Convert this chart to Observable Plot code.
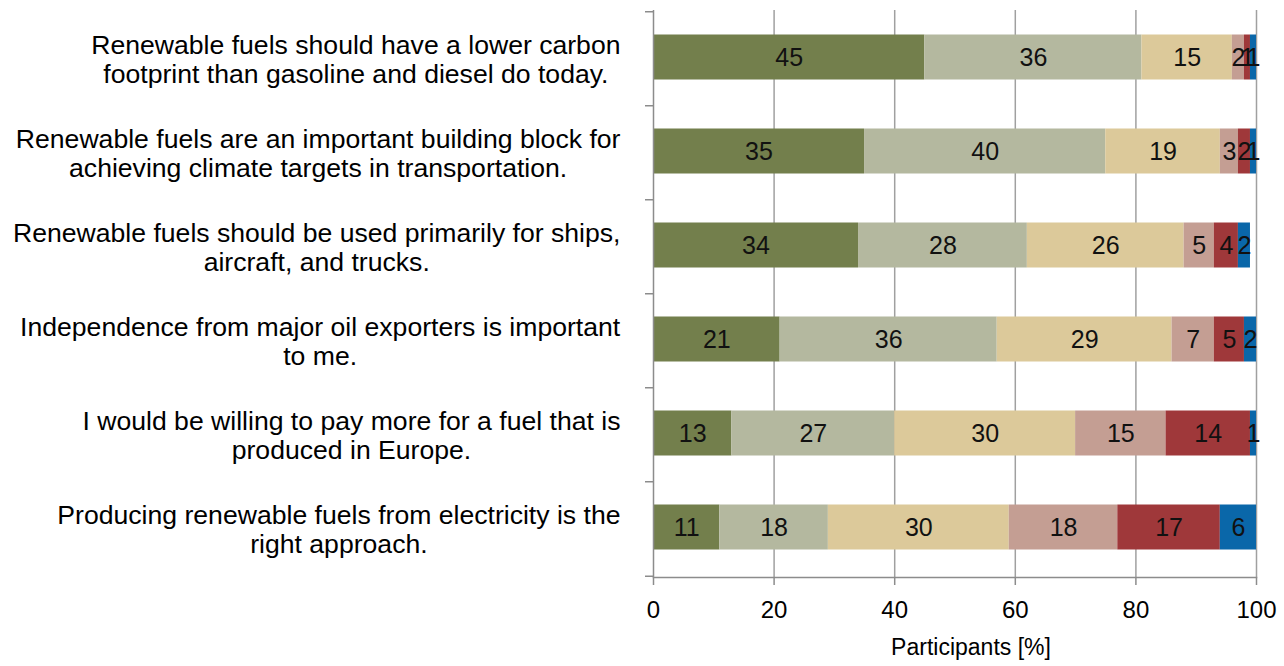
<!DOCTYPE html>
<html>
<head>
<meta charset="utf-8">
<script src="https://cdn.jsdelivr.net/npm/d3@7"></script>
<script src="https://cdn.jsdelivr.net/npm/@observablehq/plot@0.6"></script>
<style>
  html, body { margin: 0; padding: 0; background: #fff; }
  svg { display: block; }
</style>
</head>
<body>
<div id="chart"></div>
<script>
// Survey statements (one bar each), top to bottom
const statements = [
  "Renewable fuels should have a lower carbon\nfootprint than gasoline and diesel do today.",
  "Renewable fuels are an important building block for\nachieving climate targets in transportation.",
  "Renewable fuels should be used primarily for ships,\naircraft, and trucks.",
  "Independence from major oil exporters is important\nto me.",
  "I would be willing to pay more for a fuel that is\nproduced in Europe.",
  "Producing renewable fuels from electricity is the\nright approach."
];

// Answer levels, left to right along each bar
const levels = ["fully agree", "rather agree", "undecided", "rather disagree", "fully disagree", "no answer"];
const levelColors = ["#737f4c", "#b4b89f", "#dcc99a", "#c49e93", "#9f383a", "#0a67a9"];

// Share of participants [%] per answer level, one value per statement
const fullyAgree     = [45, 35, 34, 21, 13, 11];
const ratherAgree    = [36, 40, 28, 36, 27, 18];
const undecided      = [15, 19, 26, 29, 30, 30];
const ratherDisagree = [ 2,  3,  5,  7, 15, 18];
const fullyDisagree  = [ 1,  2,  4,  5, 14, 17];
const noAnswer       = [ 1,  1,  2,  2,  1,  6];

const xTicks = [0, 20, 40, 60, 80, 100];
const gridTicks = [20, 40, 60, 80, 100];
const axisTitle = "Participants [%]";

const series = [fullyAgree, ratherAgree, undecided, ratherDisagree, fullyDisagree, noAnswer];
const rows = [];
statements.forEach((s, i) => {
  series.forEach((vals, j) => rows.push({statement: s, level: levels[j], value: vals[i]}));
});

const W = 1284, H = 666;
const mTop = 10, mBottom = 89, mLeft = 653, mRight = 28;
const step = (H - mTop - mBottom) / statements.length;
const axisGray = "#8c8c8c";
const font = "'Liberation Sans', Arial, sans-serif";

const chart = Plot.plot({
  width: W,
  height: H,
  marginTop: mTop,
  marginBottom: mBottom,
  marginLeft: mLeft,
  marginRight: mRight,
  style: {fontFamily: font, fontSize: "24px", color: "#000", background: "#fff"},
  x: {domain: [0, 100], axis: null},
  y: {domain: statements, axis: null, paddingInner: 0.52, paddingOuter: 0.26},
  color: {domain: levels, range: levelColors},
  marks: [
    // vertical gridlines
    Plot.gridX(gridTicks, {stroke: "#a0a0a0", strokeOpacity: 1, strokeWidth: 1.5}),
    // stacked bars
    Plot.barX(rows, Plot.stackX({x: "value", y: "statement", fill: "level", dy: -1.5})),
    // value labels centred in each segment
    Plot.text(rows, Plot.stackX({
      x: "value", y: "statement", text: d => String(d.value),
      fill: "#111", fontSize: 25, dy: -1
    })),
    // left axis line and band separators
    Plot.ruleX([0], {stroke: axisGray, strokeWidth: 1.5}),
    Plot.axisY({tickSize: 8, tickFormat: () => "", label: null, dy: -step / 2, stroke: axisGray, strokeWidth: 1.5}),
    Plot.axisY([statements[statements.length - 1]], {tickSize: 8, tickFormat: () => "", label: null, dy: step / 2, stroke: axisGray, strokeWidth: 1.5}),
    // bottom axis line
    Plot.frame({anchor: "bottom", stroke: axisGray, strokeWidth: 1.5}),
    // x axis ticks and labels
    Plot.axisX({ticks: xTicks, tickSize: 8, tickPadding: 15, fontSize: 24, stroke: axisGray, strokeWidth: 1.5, fill: "#000", label: null}),
    // axis title
    Plot.text([axisTitle], {frameAnchor: "bottom", dy: 70, dx: 16, fontSize: 23, fill: "#000", lineAnchor: "middle"}),
    // statement labels left of the bars
    Plot.text(statements, {
      y: d => d, x: 0, dx: -33, dy: 0, text: d => d, textAnchor: "end",
      fontSize: 26.6, lineHeight: 1.1, fill: "#000"
    })
  ]
});

document.getElementById("chart").appendChild(chart);

// centre each label's lines on one another, keeping the block's right edge in place
const firstLines = new Set(statements.map(s => s.split("\n")[0]));
chart.querySelectorAll("text").forEach(t => {
  const spans = t.querySelectorAll("tspan");
  if (spans.length < 2 || !firstLines.has(spans[0].textContent)) return;
  const w = t.getBBox().width;
  t.setAttribute("text-anchor", "middle");
  spans.forEach(sp => sp.setAttribute("text-anchor", "middle"));
  const tr = t.getAttribute("transform") || "";
  t.setAttribute("transform", tr + ` translate(${-w / 2},0)`);
});
</script>
</body>
</html>
